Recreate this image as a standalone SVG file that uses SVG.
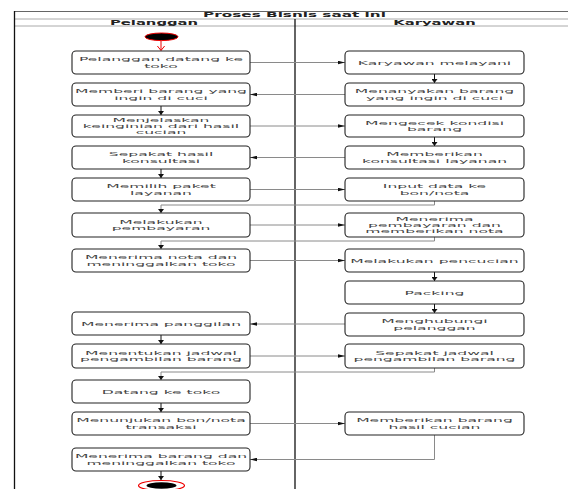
<svg xmlns="http://www.w3.org/2000/svg" width="568" height="489" viewBox="0 0 568 489">
  <style>
    .bg { fill: #ffffff; }
    .box { fill: #ffffff; stroke: #222; stroke-width: 1.1; }
    .t { font-family: "DejaVu Sans", "Liberation Sans", sans-serif; font-size: 6px; fill: #444; text-anchor: middle; }
    .hd { font-family: "DejaVu Sans", "Liberation Sans", sans-serif; font-size: 6.3px; font-weight: bold; fill: #222; text-anchor: middle; }
    .flow { fill: none; stroke: #8a8a8a; stroke-width: 1; }
    .step { fill: none; stroke: #111; stroke-width: 1; }
    .frame { fill: none; stroke: #111; stroke-width: 1.3; }
    .rule { stroke: #aaa; stroke-width: 1; }
  </style>
  <defs>
    <marker id="arrH" viewBox="0 0 8 4" refX="8" refY="2" markerWidth="7" markerHeight="4" orient="auto" markerUnits="userSpaceOnUse">
      <path d="M0,0 L8,2 L0,4 z" fill="#111"/>
    </marker>
    <marker id="arrV" viewBox="0 0 4 6" refX="4" refY="3" markerWidth="4" markerHeight="6" orient="auto" markerUnits="userSpaceOnUse">
      <path d="M0,0 L4,3 L0,6 z" fill="#111"/>
    </marker>
    <marker id="arrRed" viewBox="0 0 5 8" refX="5" refY="4" markerWidth="5" markerHeight="8" orient="auto" markerUnits="userSpaceOnUse">
      <path d="M0,0 L5,4 L0,8" fill="none" stroke="#e00" stroke-width="1"/>
    </marker>
  </defs>

  <rect class="bg" x="0" y="0" width="568" height="489"/>

  <!-- swimlane frame -->
  <g id="frame">
    <line x1="14" y1="11.5" x2="568" y2="11.5" stroke="#666" stroke-width="1"/>
    <line class="rule" x1="14" y1="19" x2="568" y2="19"/>
    <line class="rule" x1="14" y1="26" x2="568" y2="26"/>
    <line class="frame" x1="14.5" y1="11" x2="14.5" y2="489"/>
    <line class="frame" x1="295" y1="19" x2="295" y2="489"/>
    <text class="hd" transform="translate(294.5,0) scale(2.42,1)" x="0" y="17.5">Proses Bisnis saat ini</text>
    <text class="hd" transform="translate(154,0) scale(2.35,1)" x="0" y="24.7">Pelanggan</text>
    <text class="hd" transform="translate(434.5,0) scale(2.35,1)" x="0" y="24.7">Karyawan</text>
  </g>

  <!-- connectors -->
  <g id="connectors">
    <!-- start -->
    <line x1="161" y1="41" x2="161" y2="50.5" stroke="#e00" stroke-width="1" marker-end="url(#arrRed)"/>
    <!-- lane-to-lane messages -->
    <path class="flow" d="M250,62.5 H345" marker-end="url(#arrH)"/>
    <path class="flow" d="M345,94.5 H250" marker-end="url(#arrH)"/>
    <path class="flow" d="M250,126 H345" marker-end="url(#arrH)"/>
    <path class="flow" d="M345,157.5 H250" marker-end="url(#arrH)"/>
    <path class="flow" d="M250,189.5 H345" marker-end="url(#arrH)"/>
    <path class="flow" d="M250,225 H345" marker-end="url(#arrH)"/>
    <path class="flow" d="M250,260.5 H345" marker-end="url(#arrH)"/>
    <path class="flow" d="M345,324 H250" marker-end="url(#arrH)"/>
    <path class="flow" d="M250,356 H345" marker-end="url(#arrH)"/>
    <path class="flow" d="M250,423.5 H345" marker-end="url(#arrH)"/>
    <path class="flow" d="M434.5,435 V459.5 H250" marker-end="url(#arrH)"/>
    <!-- returns to customer lane -->
    <path class="flow" d="M434.5,201 V205 H161 V213" marker-end="url(#arrV)"/>
    <path class="flow" d="M434.5,237 V241 H161 V249" marker-end="url(#arrV)"/>
    <path class="flow" d="M434.5,368 V372 H161 V380" marker-end="url(#arrV)"/>
    <!-- steps within a lane -->
    <path class="step" d="M161,106 V115" marker-end="url(#arrV)"/>
    <path class="step" d="M161,169 V178" marker-end="url(#arrV)"/>
    <path class="step" d="M161,335 V344" marker-end="url(#arrV)"/>
    <path class="step" d="M161,403 V412" marker-end="url(#arrV)"/>
    <path class="step" d="M161,471 V480" marker-end="url(#arrV)"/>
    <path class="step" d="M434.5,74 V83" marker-end="url(#arrV)"/>
    <path class="step" d="M434.5,137 V146" marker-end="url(#arrV)"/>
    <path class="step" d="M434.5,272 V281" marker-end="url(#arrV)"/>
    <path class="step" d="M434.5,304 V313" marker-end="url(#arrV)"/>
  </g>

  <!-- start / end -->
  <g id="start">
    <ellipse cx="161.5" cy="36.8" rx="16.5" ry="3.8" fill="#000" stroke="#e00" stroke-width="1"/>
  </g>
  <g id="end">
    <ellipse cx="161.5" cy="485.5" rx="23" ry="5" fill="#fff" stroke="#e00" stroke-width="1.2"/>
    <ellipse cx="161.5" cy="485.5" rx="15" ry="3.3" fill="#000"/>
  </g>

  <!-- Pelanggan lane -->
  <g id="p1"><rect class="box" x="72" y="51" width="178" height="23" rx="4"/>
    <text class="t" transform="translate(161,0) scale(2.6,1)"><tspan x="0" y="61.5">Pelanggan datang ke</tspan><tspan x="0" y="67.8">toko</tspan></text></g>
  <g id="p2"><rect class="box" x="72" y="83" width="178" height="23" rx="4"/>
    <text class="t" transform="translate(161,0) scale(2.6,1)"><tspan x="0" y="93.5">Memberi barang yang</tspan><tspan x="0" y="99.8">ingin di cuci</tspan></text></g>
  <g id="p3"><rect class="box" x="72" y="115" width="178" height="22" rx="4"/>
    <text class="t" transform="translate(161,0) scale(2.6,1)"><tspan x="0" y="121.8">Menjelaskan</tspan><tspan x="0" y="128">keinginian dari hasil</tspan><tspan x="0" y="134.2">cucian</tspan></text></g>
  <g id="p4"><rect class="box" x="72" y="146" width="178" height="23" rx="4"/>
    <text class="t" transform="translate(161,0) scale(2.6,1)"><tspan x="0" y="156.5">Sepakat hasil</tspan><tspan x="0" y="162.8">konsultasi</tspan></text></g>
  <g id="p5"><rect class="box" x="72" y="178" width="178" height="23" rx="4"/>
    <text class="t" transform="translate(161,0) scale(2.6,1)"><tspan x="0" y="188.5">Memilih paket</tspan><tspan x="0" y="194.8">layanan</tspan></text></g>
  <g id="p6"><rect class="box" x="72" y="213" width="178" height="24" rx="4"/>
    <text class="t" transform="translate(161,0) scale(2.6,1)"><tspan x="0" y="224">Melakukan</tspan><tspan x="0" y="230.3">pembayaran</tspan></text></g>
  <g id="p7"><rect class="box" x="72" y="249" width="178" height="23" rx="4"/>
    <text class="t" transform="translate(161,0) scale(2.6,1)"><tspan x="0" y="259.5">Menerima nota dan</tspan><tspan x="0" y="265.8">meninggalkan toko</tspan></text></g>
  <g id="p8"><rect class="box" x="72" y="312" width="178" height="23" rx="4"/>
    <text class="t" transform="translate(161,0) scale(2.6,1)"><tspan x="0" y="325.6">Menerima panggilan</tspan></text></g>
  <g id="p9"><rect class="box" x="72" y="344" width="178" height="24" rx="4"/>
    <text class="t" transform="translate(161,0) scale(2.6,1)"><tspan x="0" y="355">Menentukan jadwal</tspan><tspan x="0" y="361.3">pengambilan barang</tspan></text></g>
  <g id="p10"><rect class="box" x="72" y="380" width="178" height="23" rx="4"/>
    <text class="t" transform="translate(161,0) scale(2.6,1)"><tspan x="0" y="393.6">Datang ke toko</tspan></text></g>
  <g id="p11"><rect class="box" x="72" y="412" width="178" height="23" rx="4"/>
    <text class="t" transform="translate(161,0) scale(2.6,1)"><tspan x="0" y="422.5">Menunjukan bon/nota</tspan><tspan x="0" y="428.8">transaksi</tspan></text></g>
  <g id="p12"><rect class="box" x="72" y="448" width="178" height="23" rx="4"/>
    <text class="t" transform="translate(161,0) scale(2.6,1)"><tspan x="0" y="458.5">Menerima barang dan</tspan><tspan x="0" y="464.8">meninggalkan toko</tspan></text></g>

  <!-- Karyawan lane -->
  <g id="k1"><rect class="box" x="345" y="51" width="179" height="23" rx="4"/>
    <text class="t" transform="translate(434.5,0) scale(2.6,1)"><tspan x="0" y="64.6">Karyawan melayani</tspan></text></g>
  <g id="k2"><rect class="box" x="345" y="83" width="179" height="23" rx="4"/>
    <text class="t" transform="translate(434.5,0) scale(2.6,1)"><tspan x="0" y="93.5">Menanyakan barang</tspan><tspan x="0" y="99.8">yang ingin di cuci</tspan></text></g>
  <g id="k3"><rect class="box" x="345" y="115" width="179" height="22" rx="4"/>
    <text class="t" transform="translate(434.5,0) scale(2.6,1)"><tspan x="0" y="125">Mengecek kondisi</tspan><tspan x="0" y="131.3">barang</tspan></text></g>
  <g id="k4"><rect class="box" x="345" y="146" width="179" height="23" rx="4"/>
    <text class="t" transform="translate(434.5,0) scale(2.6,1)"><tspan x="0" y="156.5">Memberikan</tspan><tspan x="0" y="162.8">konsultasi layanan</tspan></text></g>
  <g id="k5"><rect class="box" x="345" y="178" width="179" height="23" rx="4"/>
    <text class="t" transform="translate(434.5,0) scale(2.6,1)"><tspan x="0" y="188.5">Input data ke</tspan><tspan x="0" y="194.8">bon/nota</tspan></text></g>
  <g id="k6"><rect class="box" x="345" y="213" width="179" height="24" rx="4"/>
    <text class="t" transform="translate(434.5,0) scale(2.6,1)"><tspan x="0" y="220.8">Menerima</tspan><tspan x="0" y="227">pembayaran dan</tspan><tspan x="0" y="233.2">memberikan nota</tspan></text></g>
  <g id="k7"><rect class="box" x="345" y="249" width="179" height="23" rx="4"/>
    <text class="t" transform="translate(434.5,0) scale(2.6,1)"><tspan x="0" y="262.6">Melakukan pencucian</tspan></text></g>
  <g id="k8"><rect class="box" x="345" y="281" width="179" height="23" rx="4"/>
    <text class="t" transform="translate(434.5,0) scale(2.6,1)"><tspan x="0" y="294.6">Packing</tspan></text></g>
  <g id="k9"><rect class="box" x="345" y="313" width="179" height="23" rx="4"/>
    <text class="t" transform="translate(434.5,0) scale(2.6,1)"><tspan x="0" y="323.5">Menghubungi</tspan><tspan x="0" y="329.8">pelanggan</tspan></text></g>
  <g id="k10"><rect class="box" x="345" y="344" width="179" height="24" rx="4"/>
    <text class="t" transform="translate(434.5,0) scale(2.6,1)"><tspan x="0" y="355">Sepakat jadwal</tspan><tspan x="0" y="361.3">pengambilan barang</tspan></text></g>
  <g id="k11"><rect class="box" x="345" y="412" width="179" height="23" rx="4"/>
    <text class="t" transform="translate(434.5,0) scale(2.6,1)"><tspan x="0" y="422.5">Memberikan barang</tspan><tspan x="0" y="428.8">hasil cucian</tspan></text></g>
</svg>
